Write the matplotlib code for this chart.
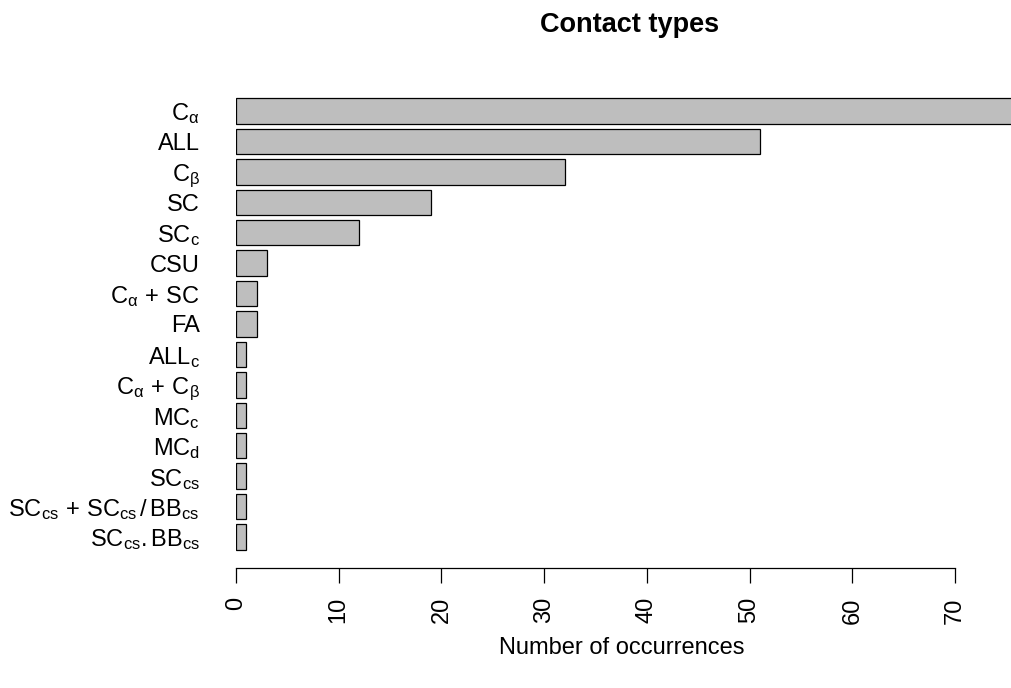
import matplotlib.pyplot as plt

plt.rcParams['font.family'] = ['Liberation Sans', 'DejaVu Sans']
plt.rcParams['mathtext.fontset'] = 'custom'
plt.rcParams['mathtext.rm'] = 'Liberation Sans'
plt.rcParams['mathtext.it'] = 'Liberation Sans'
plt.rcParams['mathtext.bf'] = 'Liberation Sans:bold'

# contact types, top to bottom
labels = [r'$\mathrm{C}_{\alpha}$', 'ALL', r'$\mathrm{C}_{\beta}$', 'SC',
          r'$\mathrm{SC}_{\mathrm{c}}$', 'CSU',
          r'$\mathrm{C}_{\alpha}\,+\,\mathrm{SC}$', 'FA',
          r'$\mathrm{ALL}_{\mathrm{c}}$',
          r'$\mathrm{C}_{\alpha}\,+\,\mathrm{C}_{\beta}$',
          r'$\mathrm{MC}_{\mathrm{c}}$', r'$\mathrm{MC}_{\mathrm{d}}$',
          r'$\mathrm{SC}_{\mathrm{cs}}$',
          r'$\mathrm{SC}_{\mathrm{cs}}\,+\,\mathrm{SC}_{\mathrm{cs}}\,/\,\mathrm{BB}_{\mathrm{cs}}$',
          r'$\mathrm{SC}_{\mathrm{cs}}{.}\mathrm{BB}_{\mathrm{cs}}$']
counts = [76, 51, 32, 19, 12, 3, 2, 2, 1, 1, 1, 1, 1, 1, 1]
xticks = [0, 10, 20, 30, 40, 50, 60, 70]

fig = plt.figure(figsize=(10.11, 6.88), dpi=100)
ax = fig.add_axes([236 / 1011, 120 / 688, 775 / 1011, 488 / 688])

pos = list(range(len(counts)))
ax.barh(pos, counts, height=1 / 1.2, color='#bebebe', edgecolor='black', linewidth=0.9)

ax.set_xlim(0, 75.45)
ax.set_ylim(len(counts) - 1 + 1.02, -1.02)

for s in ['top', 'right', 'left']:
    ax.spines[s].set_visible(False)
ax.spines['bottom'].set_bounds(0, 70)
ax.spines['bottom'].set_linewidth(0.9)

ax.set_yticks(pos)
ax.set_yticklabels(labels, fontsize=17)
ax.tick_params(axis='y', length=0, pad=26)

ax.set_xticks(xticks)
ax.set_xticklabels([str(t) for t in xticks], rotation=90, fontsize=17)
ax.tick_params(axis='x', length=11, width=0.9, pad=10)

fig.text(630 / 1011, 1 - 25 / 688, 'Contact types', ha='center', va='center',
         fontsize=19.5, fontweight='bold')
fig.text(622 / 1011, 1 - 648 / 688, 'Number of occurrences', ha='center', va='center',
         fontsize=17)

fig.savefig('out.png', dpi=100)
